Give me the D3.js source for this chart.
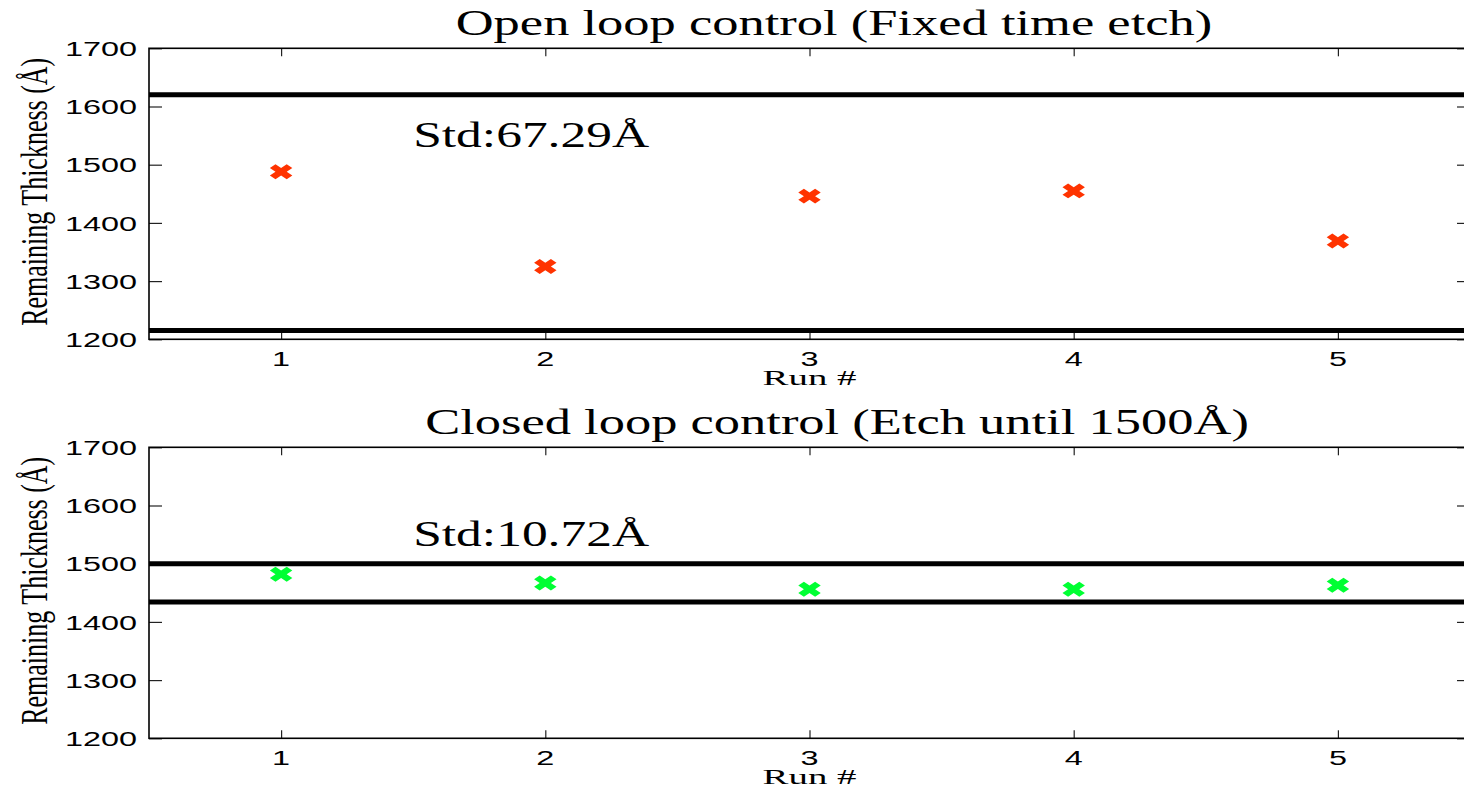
<!DOCTYPE html>
<html>
<head>
<meta charset="utf-8">
<script src="https://cdn.jsdelivr.net/npm/d3@7"></script>
<style>
  html, body { margin: 0; padding: 0; background: #fff; }
  svg { display: block; }
  .serif { font-family: "Liberation Serif", "Times New Roman", serif; fill: #000; }
  .sans { font-family: "Liberation Sans", Arial, Helvetica, sans-serif; fill: #000; }
</style>
</head>
<body>
<svg id="chart" width="1464" height="790"></svg>
<script>
// ---- data ----
const runs = [1, 2, 3, 4, 5];
const openLoop = [1488, 1325, 1446, 1455, 1369];
const closedLoop = [1482, 1467, 1456, 1456, 1463];
const openLimits = [1620, 1215];
const closedLimits = [1500, 1434];
const yTicks = [1200, 1300, 1400, 1500, 1600, 1700];
const titles = ["Open loop control (Fixed time etch)", "Closed loop control (Etch until 1500\u00C5)"];
const stdLabels = ["Std:67.29\u00C5", "Std:10.72\u00C5"];
const xLabel = "Run #";
const yLabel = "Remaining Thickness (\u00C5)";

// ---- layout ----
const svg = d3.select("#chart");
const left = 149, right = 1470;
const panels = [
  { top: 48.3, bottom: 339.3, values: openLoop, limits: openLimits, color: "#ff3300", title: titles[0], std: stdLabels[0], titleX: 834, titleY: 35 },
  { top: 447.3, bottom: 738.3, values: closedLoop, limits: closedLimits, color: "#00ff33", title: titles[1], std: stdLabels[1], titleX: 837, titleY: 434 }
];

const x = d3.scaleLinear().domain([0.5, 5.5]).range([left, right]);
const sxSerif = 1.5, sxSans = 1.62;

// X-shaped marker: a cross rotated 45 degrees, stretched sideways
const marker = d3.symbol().type(d3.symbolCross).size(140)();

panels.forEach(p => {
  const y = d3.scaleLinear().domain([1200, 1700]).range([p.bottom, p.top]);
  const g = svg.append("g");

  // axes with inward ticks on all four sides
  const axisStyle = sel => {
    sel.select(".domain").remove();
    sel.selectAll(".tick line").attr("stroke", "#222").attr("stroke-width", 1.2);
    sel.selectAll(".tick text").remove();
  };
  g.append("g").attr("transform", `translate(0,${p.bottom})`)
    .call(d3.axisBottom(x).tickValues(runs).tickSize(-8).tickFormat("")).call(axisStyle);
  g.append("g").attr("transform", `translate(0,${p.top})`)
    .call(d3.axisTop(x).tickValues(runs).tickSize(-8).tickFormat("")).call(axisStyle);
  g.append("g").attr("transform", `translate(${left},0)`)
    .call(d3.axisLeft(y).tickValues(yTicks).tickSize(-13).tickFormat("")).call(axisStyle);
  g.append("g").attr("transform", `translate(${right},0)`)
    .call(d3.axisRight(y).tickValues(yTicks).tickSize(-13).tickFormat("")).call(axisStyle);

  // frame
  g.append("rect")
    .attr("x", left).attr("y", p.top)
    .attr("width", right - left).attr("height", p.bottom - p.top)
    .attr("fill", "none").attr("stroke", "#000").attr("stroke-width", 1.6);

  // limit lines
  g.selectAll(".limit").data(p.limits).enter().append("line")
    .attr("x1", left).attr("x2", right)
    .attr("y1", d => y(d)).attr("y2", d => y(d))
    .attr("stroke", "#000").attr("stroke-width", 5);

  // y tick labels
  g.selectAll(".ylab").data(yTicks).enter().append("text")
    .attr("class", "sans")
    .attr("font-size", 20)
    .attr("text-anchor", "end")
    .attr("dominant-baseline", "central")
    .attr("transform", d => `translate(${left - 12},${y(d) + 1}) scale(${sxSans},1)`)
    .text(d => d);

  // x tick labels
  g.selectAll(".xlab").data(runs).enter().append("text")
    .attr("class", "sans")
    .attr("font-size", 20)
    .attr("text-anchor", "middle")
    .attr("transform", d => `translate(${x(d)},${p.bottom + 27}) scale(${sxSans},1)`)
    .text(d => d);

  // axis labels
  g.append("text").attr("class", "serif")
    .attr("font-size", 21)
    .attr("text-anchor", "middle")
    .attr("transform", `translate(${x(3)},${p.bottom + 46}) scale(1.85,1)`)
    .text(xLabel);
  g.append("text").attr("class", "serif")
    .attr("font-size", 26)
    .attr("text-anchor", "middle")
    .attr("transform", `translate(47,${(p.top + p.bottom) / 2 - 2}) scale(1.45,1) rotate(-90)`)
    .text(yLabel);

  // title
  g.append("text").attr("class", "serif")
    .attr("font-size", 35)
    .attr("text-anchor", "middle")
    .attr("transform", `translate(${p.titleX},${p.titleY}) scale(${sxSerif},1)`)
    .text(p.title);

  // standard deviation annotation
  g.append("text").attr("class", "serif")
    .attr("font-size", 36)
    .attr("transform", `translate(${x(1.5)},${y(1530)}) scale(1.43,1)`)
    .text(p.std);

  // data markers
  g.selectAll(".pt").data(runs.map((r, i) => [r, p.values[i]])).enter().append("path")
    .attr("d", marker)
    .attr("fill", p.color)
    .attr("transform", d => `translate(${x(d[0])},${y(d[1])}) scale(1.5,1) rotate(45)`);
});
</script>
</body>
</html>
